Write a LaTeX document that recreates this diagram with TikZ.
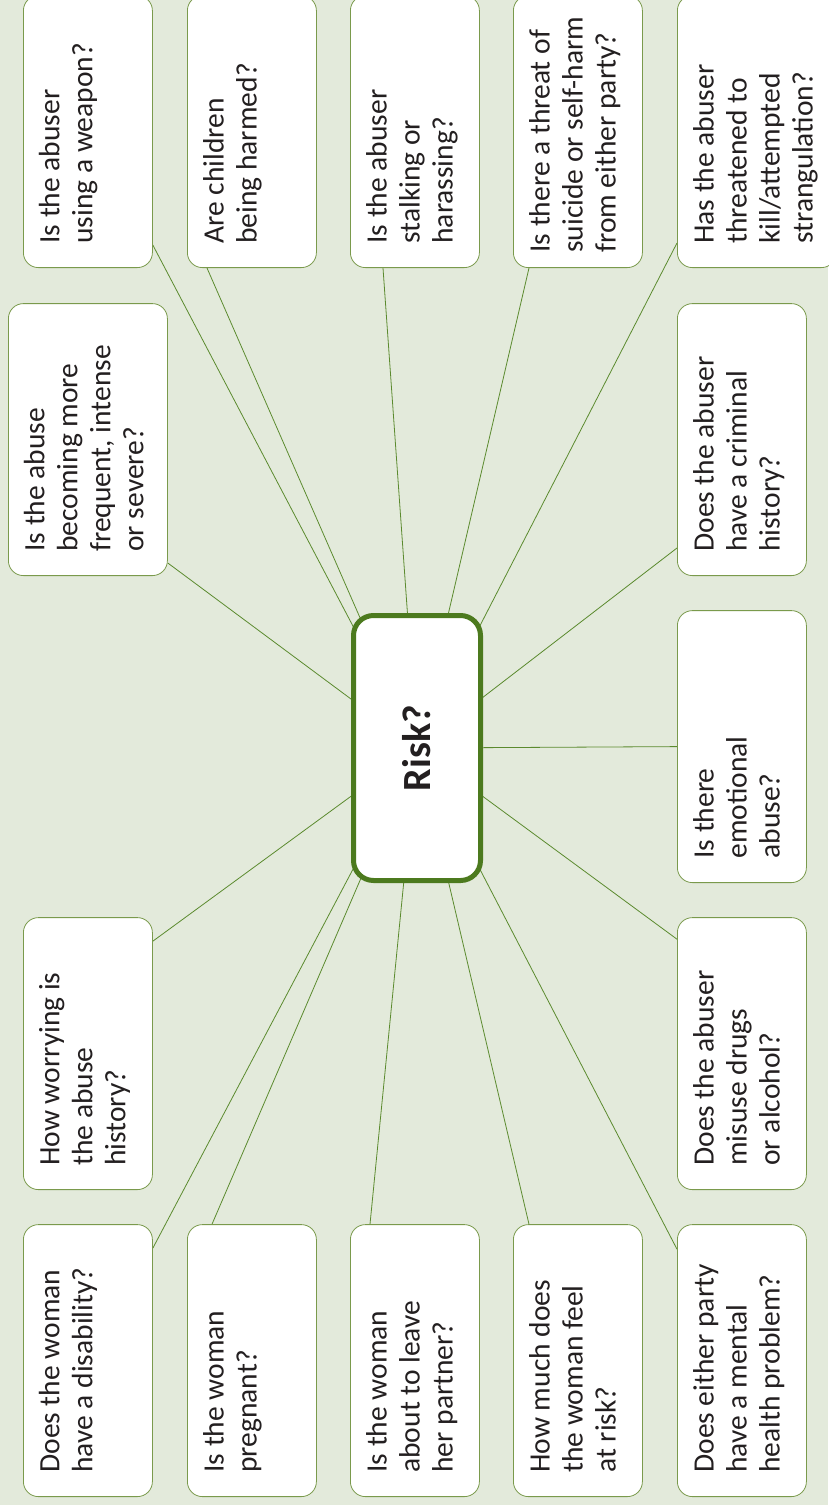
\documentclass[tikz,border=0pt]{standalone}
\usepackage{fontspec}
\setmainfont{Carlito}
\usetikzlibrary{backgrounds}

\definecolor{bggreen}{HTML}{E3EADB}
\definecolor{boxline}{HTML}{7A9A4C}
\definecolor{riskline}{HTML}{4C7A1E}
\definecolor{linkgreen}{HTML}{5B8A2E}
\definecolor{textgray}{HTML}{231F20}

\tikzset{
  qbox/.style={draw=boxline, line width=0.8pt, fill=white, rounded corners=15pt,
    inner xsep=13pt, inner ysep=12pt, anchor=south west, text=textgray},
  riskbox/.style={draw=riskline, line width=5pt, fill=white, rounded corners=20pt,
    minimum width=127pt, minimum height=265pt, inner sep=0pt, text=textgray},
  link/.style={draw=linkgreen, line width=0.8pt}
}

% question text, turned to read upwards
\newcommand{\qtext}[2][103pt]{\rotatebox{90}{\parbox[c][#1][t]{248pt}{%
  \raggedright\leftskip=12pt\fontsize{29.5}{33}\selectfont\strut #2}}}

\begin{document}
\begin{tikzpicture}[x=1pt,y=-1pt]
\useasboundingbox (0,0) rectangle (828,1505);

% Centre
\node[riskbox] (risk) at (417,748) {\rotatebox{90}{\fontsize{40}{44}\selectfont\bfseries Risk?}};

% Top row
\node[qbox] (weapon) at (23,268) {\qtext{Is the abuser\\using a weapon?}};
\node[qbox] (children) at (187,268) {\qtext{Are children\\being harmed?}};
\node[qbox] (stalking) at (350,268) {\qtext{Is the abuser\\stalking or\\harassing?}};
\node[qbox] (suicide) at (513,268) {\qtext{\leftskip=3pt Is there a threat of\\suicide or self-harm\\from either party?}};
\node[qbox] (threat) at (677,268) {\qtext[133pt]{Has the abuser\\threatened to\\kill/attempted\\strangulation?}};

% Middle rows
\node[qbox] (frequent) at (8,576) {\qtext[133pt]{Is the abuse\\becoming more\\frequent, intense\\or severe?}};
\node[qbox] (criminal) at (677,576) {\qtext{Does the abuser\\have a criminal\\history?}};
\node[qbox] (emotional) at (677,883) {\qtext{Is there\\emotional\\abuse?}};
\node[qbox] (worrying) at (23,1190) {\qtext{How worrying is\\the abuse\\history?}};
\node[qbox] (drugs) at (677,1190) {\qtext{Does the abuser\\misuse drugs\\or alcohol?}};

% Bottom row
\node[qbox] (disability) at (23,1497) {\qtext{Does the woman\\have a disability?}};
\node[qbox] (pregnant) at (187,1497) {\qtext{Is the woman\\pregnant?}};
\node[qbox] (leaving) at (350,1497) {\qtext{Is the woman\\about to leave\\her partner?}};
\node[qbox] (atrisk) at (513,1497) {\qtext{How much does\\the woman feel\\at risk?}};
\node[qbox] (mental) at (677,1497) {\qtext{Does either party\\have a mental\\health problem?}};

% Spokes, behind the boxes
\begin{pgfonlayer}{background}
\fill[bggreen] (0,0) rectangle (828,1505);
\draw[link] ([yshift=23pt]weapon.south east) -- (risk.center);
\draw[link] ([xshift=20pt]children.south west) -- (risk.center);
\draw[link] ([xshift=33pt]stalking.south west) -- (risk.center);
\draw[link] ([xshift=16pt]suicide.south west) -- (risk.center);
\draw[link] ([yshift=25pt]threat.south west) -- (risk.center);
\draw[link] ([yshift=13pt]frequent.south east) -- (risk.center);
\draw[link] ([yshift=28pt]criminal.south west) -- (risk.center);
\draw[link] (emotional.west) -- (risk.center);
\draw[link] ([yshift=-24pt]worrying.north east) -- (risk.center);
\draw[link] ([yshift=-22pt]drugs.north west) -- (risk.center);
\draw[link] ([yshift=-24pt]disability.north east) -- (risk.center);
\draw[link] ([xshift=25pt]pregnant.north west) -- (risk.center);
\draw[link] ([xshift=20pt]leaving.north west) -- (risk.center);
\draw[link] ([xshift=16pt]atrisk.north west) -- (risk.center);
\draw[link] ([yshift=-25pt]mental.north west) -- (risk.center);
\end{pgfonlayer}

\end{tikzpicture}
\end{document}
